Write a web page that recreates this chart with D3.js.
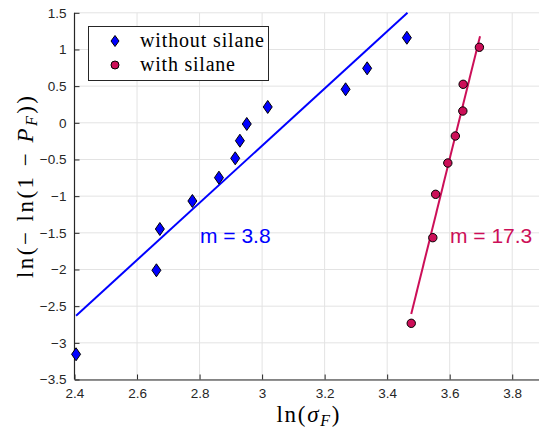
<!DOCTYPE html>
<html><head><meta charset="utf-8">
<script src="https://cdn.jsdelivr.net/npm/d3@7"></script>
<style>body{margin:0;background:#fff}svg{display:block}</style>
</head><body>
<svg id="c" width="539" height="430"></svg>
<script>
const xTicks = [2.4, 2.6, 2.8, 3.0, 3.2, 3.4, 3.6, 3.8];
const yTicks = [-3.5, -3, -2.5, -2, -1.5, -1, -0.5, 0, 0.5, 1, 1.5];
const withoutX = [2.405, 2.662, 2.673, 2.777, 2.862, 2.914, 2.929, 2.951, 3.018, 3.267, 3.336, 3.463];
const withoutY = [-3.156, -2.011, -1.448, -1.066, -0.748, -0.484, -0.244, -0.016, 0.216, 0.457, 0.743, 1.160];
const withX = [3.477, 3.546, 3.555, 3.594, 3.618, 3.642, 3.643, 3.695];
const withY = [-2.734, -1.566, -0.975, -0.548, -0.180, 0.161, 0.525, 1.030];
const fitWithoutX = [2.405, 3.465];
const fitWithoutY = [-2.63, 1.50];
const fitWithX = [3.477, 3.697];
const fitWithY = [-2.607, 1.18];
const labels = ["without silane", "with silane"];
const slopes = ["m = 3.8", "m = 17.3"];

const blue = "#0000ff", red = "#cc0f58";
const svg = d3.select("#c");
const L = 74.5, R = 543.5, T = 12.8, B = 379.5;
const x = d3.scaleLinear().domain([2.4, 3.9]).range([L, R]);
const y = d3.scaleLinear().domain([-3.5, 1.5]).range([B, T]);

// grid
const g = svg.append("g");
g.selectAll(".gx").data(xTicks).enter().append("line")
  .attr("x1", d => x(d)).attr("x2", d => x(d)).attr("y1", T).attr("y2", B)
  .attr("stroke", "#e3e3e3").attr("stroke-width", 1);
g.selectAll(".gy").data(yTicks).enter().append("line")
  .attr("x1", L).attr("x2", R).attr("y1", d => y(d)).attr("y2", d => y(d))
  .attr("stroke", "#e3e3e3").attr("stroke-width", 1);

// axes
const fmt = d => d3.format("")(d);
const xa = svg.append("g").attr("transform", `translate(0,${B})`)
  .call(d3.axisBottom(x).tickValues(xTicks).tickFormat(fmt).tickSizeInner(-5).tickSizeOuter(0).tickPadding(9));
const ya = svg.append("g").attr("transform", `translate(${L},0)`)
  .call(d3.axisLeft(y).tickValues(yTicks).tickFormat(fmt).tickSizeInner(-5).tickSizeOuter(0).tickPadding(8));
[xa, ya].forEach(a => {
  a.select(".domain").attr("stroke", "#262626").attr("stroke-width", 1.2);
  a.selectAll(".tick line").attr("stroke", "#262626");
  a.selectAll("text").attr("fill", "#262626").style("font-family", "Liberation Sans, Arial, sans-serif").style("font-size", "13.5px");
});
ya.select(".domain").attr("d", `M0,${B}V${T}`);

// fit lines
const line = d3.line().x(d => x(d[0])).y(d => y(d[1]));
svg.append("path").datum(d3.zip(fitWithoutX, fitWithoutY)).attr("d", line)
  .attr("stroke", blue).attr("stroke-width", 2).attr("fill", "none");
svg.append("path").datum(d3.zip(fitWithX, fitWithY)).attr("d", line)
  .attr("stroke", red).attr("stroke-width", 2).attr("fill", "none");

// markers
const diamond = "M0,-6.5L4.5,0L0,6.5L-4.5,0Z";
svg.selectAll(".dia").data(d3.zip(withoutX, withoutY)).enter().append("path")
  .attr("d", diamond).attr("transform", d => `translate(${x(d[0])},${y(d[1])})`)
  .attr("fill", blue).attr("stroke", "#000").attr("stroke-width", 1);
svg.selectAll(".cir").data(d3.zip(withX, withY)).enter().append("circle")
  .attr("cx", d => x(d[0])).attr("cy", d => y(d[1])).attr("r", 4.2)
  .attr("fill", red).attr("stroke", "#000").attr("stroke-width", 1);

// slope labels
svg.append("text").attr("x", 200).attr("y", 243).text(slopes[0])
  .attr("fill", blue).style("font-family", "Liberation Sans, Arial, sans-serif").style("font-size", "21px");
svg.append("text").attr("x", 450).attr("y", 243).text(slopes[1])
  .attr("fill", red).style("font-family", "Liberation Sans, Arial, sans-serif").style("font-size", "21px");

// legend
const lg = svg.append("g");
lg.append("rect").attr("x", 88.5).attr("y", 26.5).attr("width", 180).attr("height", 54)
  .attr("fill", "#fff").attr("stroke", "#262626").attr("stroke-width", 1);
lg.append("path").attr("d", "M0,-5.5L4,0L0,5.5L-4,0Z").attr("transform", "translate(115,41)")
  .attr("fill", blue).attr("stroke", "#000").attr("stroke-width", 1);
lg.append("circle").attr("cx", 115).attr("cy", 65).attr("r", 4)
  .attr("fill", red).attr("stroke", "#000").attr("stroke-width", 1);
const legW = [124, 95];
lg.selectAll(".lt").data(labels).enter().append("text")
  .attr("x", 140).attr("y", (d, i) => 46.5 + i * 24).text(d => d)
  .attr("textLength", (d, i) => legW[i]).attr("lengthAdjust", "spacing")
  .attr("fill", "#000").style("font-family", "Liberation Serif, Times New Roman, serif").style("font-size", "20px");

// axis labels
const xl = svg.append("text").attr("x", 308).attr("y", 422).attr("text-anchor", "middle")
  .attr("textLength", 63).attr("lengthAdjust", "spacing")
  .style("font-family", "Liberation Serif, serif").style("font-size", "23px").attr("fill", "#000");
xl.append("tspan").text("ln(");
xl.append("tspan").text("σ").style("font-style", "italic");
xl.append("tspan").text("F").style("font-style", "italic").style("font-size", "16px").attr("dy", 4);
xl.append("tspan").text(")").attr("dy", -4);

const yl = svg.append("text").attr("transform", "translate(33,187) rotate(-90)").attr("text-anchor", "middle")
  .attr("textLength", 182).attr("lengthAdjust", "spacing")
  .style("font-family", "Liberation Serif, serif").style("font-size", "23px").attr("fill", "#000");
yl.append("tspan").text("ln(\u2212 ln(1 \u2212 ");
yl.append("tspan").text("P").style("font-style", "italic");
yl.append("tspan").text("F").style("font-style", "italic").style("font-size", "16px").attr("dy", 4);
yl.append("tspan").text("))").attr("dy", -4);
</script>
</body></html>
